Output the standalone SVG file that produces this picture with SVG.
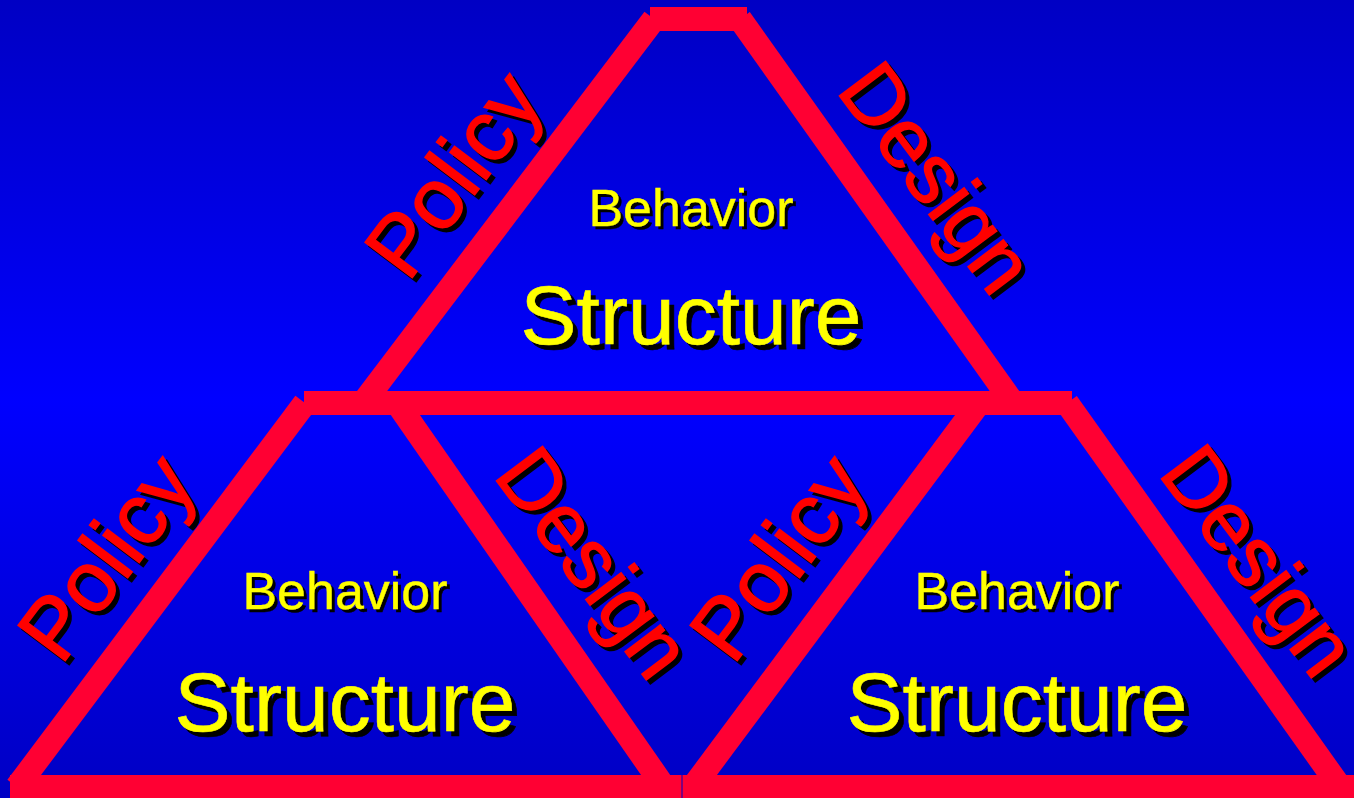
<svg xmlns="http://www.w3.org/2000/svg" width="1354" height="798" viewBox="0 0 1354 798">
<style>
.bar{stroke:#ff0033;stroke-width:24;stroke-linecap:butt;fill:none}
text{font-family:"Liberation Sans",Arial,sans-serif;text-anchor:middle}
.st{font-size:84px;fill:#ffff00;stroke:#ffff00;stroke-width:0.6}
.bh{font-size:52px;fill:#ffff00;stroke:#ffff00;stroke-width:0.4}
.lbl{font-size:86px;fill:#ff0000;stroke:#ff0000;stroke-width:1.4}
.dl{font-size:84px}
.sh{fill:#000000;stroke:#000000}
</style>
<defs>
<linearGradient id="bg" x1="0" y1="0" x2="0" y2="1">
<stop offset="0" stop-color="#0000c4"/>
<stop offset="0.5" stop-color="#0000ff"/>
<stop offset="1" stop-color="#0000c4"/>
</linearGradient>
</defs>
<rect x="0" y="0" width="1354" height="798" fill="url(#bg)"/>
<g id="connectors">
<line class="bar" x1="654" y1="19" x2="363" y2="403"/>
<line class="bar" x1="740" y1="19" x2="1013" y2="403"/>
<line class="bar" x1="650" y1="19" x2="747" y2="19"/>
<line class="bar" x1="305" y1="403" x2="17" y2="787"/>
<line class="bar" x1="397" y1="403" x2="664" y2="787"/>
<line class="bar" x1="979" y1="403" x2="693" y2="787"/>
<line class="bar" x1="1067" y1="403" x2="1340" y2="787"/>
<line class="bar" x1="304" y1="403" x2="1072" y2="403"/>
<line class="bar" x1="10" y1="787" x2="681.5" y2="787"/>
<line class="bar" x1="682.5" y1="787" x2="1360" y2="787"/>
</g>
<g id="top-triangle">
<text class="bh sh" x="694" y="229">Behavior</text>
<text class="bh" x="691" y="226">Behavior</text>
<text class="st sh" x="696" y="349">Structure</text>
<text class="st" x="691" y="344">Structure</text>
<text class="lbl sh" transform="translate(481,196) rotate(-53)">Policy</text>
<text class="lbl" transform="translate(477,192) rotate(-53)">Policy</text>
<text class="lbl dl sh" transform="translate(918,199) rotate(53)">Design</text>
<text class="lbl dl" transform="translate(914,195) rotate(53)">Design</text>
</g>
<g id="lower-left-triangle">
<text class="bh sh" x="348" y="612">Behavior</text>
<text class="bh" x="345" y="609">Behavior</text>
<text class="st sh" x="350" y="736">Structure</text>
<text class="st" x="345" y="731">Structure</text>
<text class="lbl sh" transform="translate(134,579) rotate(-53)">Policy</text>
<text class="lbl" transform="translate(130,575) rotate(-53)">Policy</text>
<text class="lbl dl sh" transform="translate(575,584) rotate(53)">Design</text>
<text class="lbl dl" transform="translate(571,580) rotate(53)">Design</text>
</g>
<g id="lower-right-triangle">
<text class="bh sh" x="1020" y="612">Behavior</text>
<text class="bh" x="1017" y="609">Behavior</text>
<text class="st sh" x="1022" y="736">Structure</text>
<text class="st" x="1017" y="731">Structure</text>
<text class="lbl sh" transform="translate(806,579) rotate(-53)">Policy</text>
<text class="lbl" transform="translate(802,575) rotate(-53)">Policy</text>
<text class="lbl dl sh" transform="translate(1240,582) rotate(53)">Design</text>
<text class="lbl dl" transform="translate(1236,578) rotate(53)">Design</text>
</g>
</svg>
